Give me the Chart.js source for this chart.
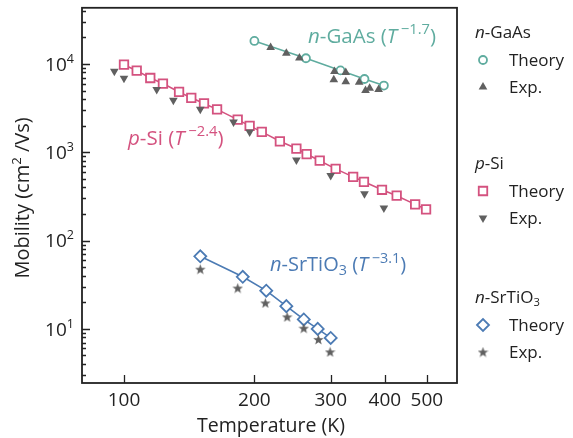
<!DOCTYPE html>
<html>
<head>
<meta charset="utf-8">
<script src="https://cdn.jsdelivr.net/npm/chart.js@4"></script>
<style>
  body { margin: 0; background: #fff; }
  canvas { display: block; }
</style>
</head>
<body>
<canvas id="mobilityChart" width="573" height="438"></canvas>
<script>
// n-GaAs
const gaasTheoryT = [200, 263, 316, 359, 398];
const gaasTheoryMu = [18200, 11600, 8450, 6750, 5690];
const gaasExpT = [218, 237, 254, 306, 305, 325, 325, 349, 361, 369, 387];
const gaasExpMu = [15300, 13200, 11700, 8200, 6640, 8000, 6300, 6200, 5000, 5300, 5130];

// p-Si
const siTheoryT = [100, 107, 115, 123, 134, 143, 153, 164, 183, 195, 208, 229, 250, 264, 283, 308, 338, 358, 394, 426, 470, 498];
const siTheoryMu = [9800, 8390, 6930, 5990, 4820, 4130, 3570, 3060, 2340, 1990, 1700, 1330, 1100, 954, 803, 648, 526, 463, 376, 322, 257, 226];
const siExpT = [95, 100, 119, 130, 150, 179, 195, 250, 300, 359, 398];
const siExpMu = [8240, 6880, 5130, 3890, 3060, 2200, 1700, 817, 544, 339, 234];

// n-SrTiO3
const stoTheoryT = [150, 188, 213, 237, 260, 280, 300];
const stoTheoryMu = [66.4, 38.9, 27.1, 18.1, 12.8, 10.0, 7.9];
const stoExpT = [150, 183, 212, 238, 260, 281, 299];
const stoExpMu = [47.5, 29.0, 19.7, 13.7, 10.2, 7.6, 5.5];

// axis ticks
const xTicks = [100, 200, 300, 400, 500];
const yDecades = [1, 2, 3, 4];

const FONT = '"Open Sans", "Noto Sans", sans-serif';
const TEAL = '#5fac9f';
const PINK = '#d4527f';
const BLUE = '#4c7bb4';
const GRAY = '#606060';
const INK = '#222';

function pts(xs, ys) {
    return xs.map((v, i) => ({ x: v, y: ys[i] }));
}

function makeStar(size, color) {
    const c = document.createElement('canvas');
    c.width = size; c.height = size;
    const g = c.getContext('2d');
    const cx = size / 2, cy = size / 2 + 0.5, R = size / 2, r = R * 0.42;
    g.beginPath();
    for (let i = 0; i < 10; i++) {
        const rad = i % 2 ? r : R;
        const a = -Math.PI / 2 + i * Math.PI / 5;
        g.lineTo(cx + rad * Math.cos(a), cy + rad * Math.sin(a));
    }
    g.closePath();
    g.fillStyle = color;
    g.fill();
    return c;
}
const star = makeStar(11, GRAY);

// draws text pieces: [text, style] with style '', 'i', 'sup', 'sub'
function richText(ctx, parts, x, y, size, color, align, supScale) {
    const k = supScale || 0.66;
    const fontFor = (st) => {
        const s = (st === 'sup' || st === 'sub') ? size * k : size;
        return (st === 'i' ? 'italic ' : '') + s + 'px ' + FONT;
    };
    let total = 0;
    parts.forEach(([t, st]) => { ctx.font = fontFor(st); total += ctx.measureText(t).width; });
    let cx = align === 'right' ? x - total : align === 'center' ? x - total / 2 : x;
    ctx.fillStyle = color;
    ctx.textAlign = 'left';
    ctx.textBaseline = 'alphabetic';
    parts.forEach(([t, st]) => {
        ctx.font = fontFor(st);
        let dy = 0;
        if (st === 'sup') dy = -size * 0.42;
        if (st === 'sub') dy = size * 0.2;
        ctx.fillText(t, cx, y + dy);
        cx += ctx.measureText(t).width;
    });
}

const axesPlugin = {
    id: 'axesPlugin',
    afterDraw(chart) {
        const { ctx, chartArea: a, scales: { x, y } } = chart;
        ctx.save();
        ctx.strokeStyle = INK;
        ctx.lineWidth = 1.8;
        ctx.strokeRect(a.left, a.top, a.right - a.left, a.bottom - a.top);

        ctx.beginPath();
        xTicks.forEach(v => {
            const px = Math.round(x.getPixelForValue(v)) + 0.5;
            ctx.moveTo(px, a.bottom);
            ctx.lineTo(px, a.bottom - 8);
        });
        yDecades.forEach(k => {
            const base = Math.pow(10, k);
            const py = Math.round(y.getPixelForValue(base)) + 0.5;
            ctx.moveTo(a.left, py);
            ctx.lineTo(a.left + 8, py);
        });
        for (let k = 0; k <= 4; k++) {
            for (let m = 2; m <= 9; m++) {
                const v = m * Math.pow(10, k);
                if (v < y.min || v > y.max) continue;
                const py = Math.round(y.getPixelForValue(v)) + 0.5;
                ctx.moveTo(a.left, py);
                ctx.lineTo(a.left + 4, py);
            }
        }
        ctx.lineWidth = 1.3;
        ctx.stroke();

        // tick labels
        xTicks.forEach(v => {
            richText(ctx, [[String(v), '']], x.getPixelForValue(v), a.bottom + 23, 19, INK, 'center');
        });
        yDecades.forEach(k => {
            const py = y.getPixelForValue(Math.pow(10, k));
            richText(ctx, [['10', ''], [String(k), 'sup']], a.left - 8, py + 6.8, 19, INK, 'right');
        });

        // axis titles
        richText(ctx, [['Temperature (K)', '']], 271, a.bottom + 49, 19.5, INK, 'center');
        ctx.save();
        ctx.translate(29, 198);
        ctx.rotate(-Math.PI / 2);
        richText(ctx, [['Mobility (cm', ''], ['2', 'sup'], [' /Vs)', '']], 0, 0, 20, INK, 'center');
        ctx.restore();

        // curve annotations
        richText(ctx, [['n', 'i'], ['-GaAs (', ''], ['T', 'i'], [' \u22121.7', 'sup'], [')', '']], 308, 43, 20.5, TEAL, 'left', 0.72);
        richText(ctx, [['p', 'i'], ['-Si (', ''], ['T', 'i'], [' \u22122.4', 'sup'], [')', '']], 128, 145, 20.5, PINK, 'left', 0.72);
        richText(ctx, [['n', 'i'], ['-SrTiO', ''], ['3', 'sub'], [' (', ''], ['T', 'i'], [' \u22123.1', 'sup'], [')', '']], 270, 271, 20, BLUE, 'left', 0.72);

        // grouped legend
        const groups = [
            { head: [['n', 'i'], ['-GaAs', '']], y: 32, theory: { style: 'circle', r: 4, rot: 0, color: TEAL }, exp: { style: 'triangle', r: 5, rot: 0 } },
            { head: [['p', 'i'], ['-Si', '']], y: 163, theory: { style: 'rect', r: 6, rot: 0, color: PINK }, exp: { style: 'triangle', r: 5, rot: 180 } },
            { head: [['n', 'i'], ['-SrTiO', ''], ['3', 'sub']], y: 297, theory: { style: 'rectRot', r: 6, rot: 0, color: BLUE }, exp: { style: star, r: 5, rot: 0 } }
        ];
        groups.forEach(g => {
            richText(ctx, g.head, 475, g.y + 6, 17, INK, 'left');
            ctx.lineWidth = 1.8;
            ctx.strokeStyle = g.theory.color;
            ctx.fillStyle = '#fff';
            Chart.helpers.drawPoint(ctx, { pointStyle: g.theory.style, radius: g.theory.r, rotation: g.theory.rot, borderWidth: 1.8 }, 483, g.y + 28);
            richText(ctx, [['Theory', '']], 509, g.y + 34, 17, INK, 'left');
            ctx.fillStyle = GRAY;
            ctx.strokeStyle = GRAY;
            ctx.lineWidth = 0;
            Chart.helpers.drawPoint(ctx, { pointStyle: g.exp.style, radius: g.exp.r, rotation: g.exp.rot, borderWidth: 0 }, 483, g.y + 55);
            richText(ctx, [['Exp.', '']], 509, g.y + 61, 17, INK, 'left');
        });
        ctx.restore();
    }
};

new Chart(document.getElementById('mobilityChart'), {
    type: 'scatter',
    data: {
        datasets: [
            { label: 'n-GaAs Exp.', data: pts(gaasExpT, gaasExpMu), pointStyle: 'triangle', pointRadius: 5, backgroundColor: GRAY, borderColor: GRAY, borderWidth: 0 },
            { label: 'p-Si Exp.', data: pts(siExpT, siExpMu), pointStyle: 'triangle', rotation: 180, pointRadius: 5, backgroundColor: GRAY, borderColor: GRAY, borderWidth: 0 },
            { label: 'n-SrTiO3 Exp.', data: pts(stoExpT, stoExpMu), pointStyle: star, pointRadius: 5, backgroundColor: GRAY, borderColor: GRAY, borderWidth: 0 },
            { label: 'n-GaAs Theory', data: pts(gaasTheoryT, gaasTheoryMu), showLine: true, pointStyle: 'circle', pointRadius: 4, borderColor: TEAL, backgroundColor: '#fff', borderWidth: 1.6, pointBorderWidth: 1.8 },
            { label: 'p-Si Theory', data: pts(siTheoryT, siTheoryMu), showLine: true, pointStyle: 'rect', pointRadius: 6, borderColor: PINK, backgroundColor: '#fff', borderWidth: 1.6, pointBorderWidth: 1.8 },
            { label: 'n-SrTiO3 Theory', data: pts(stoTheoryT, stoTheoryMu), showLine: true, pointStyle: 'rectRot', pointRadius: 6, borderColor: BLUE, backgroundColor: '#fff', borderWidth: 1.6, pointBorderWidth: 1.8 }
        ]
    },
    options: {
        responsive: false,
        animation: false,
        layout: { padding: { left: 82, right: 116, top: 5, bottom: 55 } },
        scales: {
            x: { type: 'logarithmic', min: 80, max: 587, display: false },
            y: { type: 'logarithmic', min: 2.44, max: 43200, display: false }
        },
        plugins: {
            legend: { display: false },
            tooltip: { enabled: false }
        }
    },
    plugins: [axesPlugin]
});
</script>
</body>
</html>
